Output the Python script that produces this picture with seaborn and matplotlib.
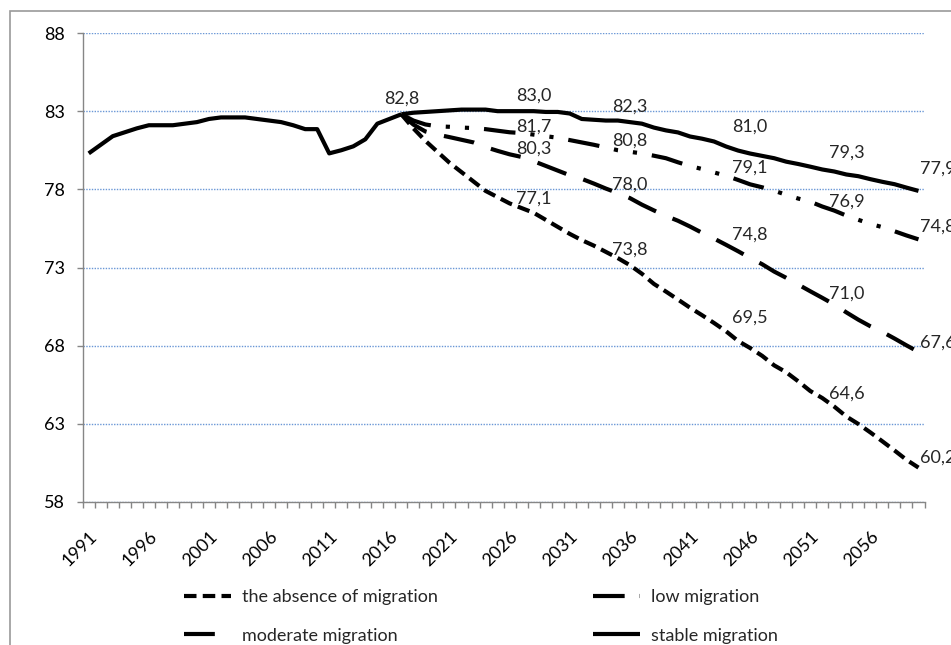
import numpy as np
import pandas as pd
import matplotlib
matplotlib.use("Agg")
import matplotlib.pyplot as plt
import seaborn as sns
from matplotlib.lines import Line2D
from matplotlib.patches import Rectangle
from matplotlib.ticker import FixedLocator

# ---------------- data ----------------
hist_years = list(range(1991, 2018))
hist_values = [80.3, 80.85, 81.4, 81.65, 81.9, 82.1, 82.1, 82.1, 82.2, 82.3,
               82.5, 82.6, 82.6, 82.6, 82.5, 82.4, 82.3, 82.1, 81.85, 81.85,
               80.3, 80.5, 80.75, 81.2, 82.2, 82.5, 82.8]

proj_years = list(range(2017, 2061))
absence = [82.8, 81.9, 81.1, 80.4, 79.7, 79.1, 78.5, 77.9, 77.5, 77.1,
           76.8, 76.5, 76.05, 75.6, 75.15, 74.75, 74.4, 74.0, 73.6, 73.15,
           72.6, 71.95, 71.46, 70.95, 70.43, 69.95, 69.45, 68.92, 68.3, 67.85,
           67.35, 66.74, 66.3, 65.72, 65.1, 64.65, 64.1, 63.47, 62.99, 62.45,
           61.88, 61.3, 60.7, 60.2]
low = [82.8, 82.4, 82.15, 82.03, 82.0, 81.95, 81.92, 81.85, 81.75, 81.65,
       81.6, 81.5, 81.4, 81.3, 81.15, 81.0, 80.85, 80.68, 80.5, 80.4,
       80.3, 80.15, 79.99, 79.73, 79.49, 79.3, 79.08, 78.87, 78.6, 78.32,
       78.13, 77.91, 77.65, 77.41, 77.21, 76.9, 76.64, 76.32, 76.05, 75.79,
       75.58, 75.32, 75.05, 74.8]
moderate = [82.8, 82.14, 81.7, 81.5, 81.34, 81.17, 81.0, 80.7, 80.46, 80.24,
            80.07, 79.8, 79.5, 79.2, 78.9, 78.67, 78.37, 78.05, 77.76, 77.44,
            77.02, 76.65, 76.3, 75.99, 75.62, 75.22, 74.85, 74.45, 74.04, 73.61,
            73.21, 72.74, 72.34, 71.91, 71.48, 71.06, 70.63, 70.13, 69.66, 69.24,
            68.88, 68.46, 68.02, 67.6]
stable = [82.8, 82.9, 82.95, 83.0, 83.05, 83.1, 83.1, 83.1, 83.0, 83.0,
          83.0, 83.0, 82.95, 82.95, 82.85, 82.5, 82.45, 82.4, 82.4, 82.3,
          82.2, 81.95, 81.77, 81.64, 81.38, 81.24, 81.06, 80.74, 80.48, 80.29,
          80.14, 79.99, 79.77, 79.62, 79.45, 79.27, 79.14, 78.95, 78.84, 78.65,
          78.48, 78.33, 78.11, 77.9]

scenario_names = ["the absence of migration", "low migration",
                  "moderate migration", "stable migration"]

label_years = [2017, 2028, 2036, 2046, 2054, 2060]
stable_labels = [82.8, 83.0, 82.3, 81.0, 79.3, 77.9]
other_label_years = [2028, 2036, 2046, 2054, 2060]
low_labels = [81.7, 80.8, 79.1, 76.9, 74.8]
moderate_labels = [80.3, 78.0, 74.8, 71.0, 67.6]
absence_labels = [77.1, 73.8, 69.5, 64.6, 60.2]

y_ticks = [58, 63, 68, 73, 78, 83, 88]
x_tick_years = list(range(1991, 2057, 5))

# ---------------- style ----------------
sns.set_theme(style="white")
plt.rcParams["font.family"] = ["Lato", "DejaVu Sans"]
FS = 13
GRAY = "#868686"
LW = 3.0

dash_map = {
    scenario_names[0]: (3.0, 1.5),
    scenario_names[1]: (7.6, 3.6, 1.0, 3.6, 1.0, 3.6),
    scenario_names[2]: (7.4, 4.3),
    scenario_names[3]: "",
}

W, H = 951, 645
fig = plt.figure(figsize=(W / 100, H / 100), dpi=100)
ax = fig.add_axes([82.7 / W, 1 - 502 / H, (924.5 - 82.7) / W, (502 - 33) / H])

df = pd.DataFrame({
    "year": proj_years * 4,
    "value": absence + low + moderate + stable,
    "scenario": np.repeat(scenario_names, len(proj_years)),
})

sns.lineplot(x=hist_years, y=hist_values, color="black", linewidth=LW, ax=ax)
n_before = len(ax.lines)
sns.lineplot(data=df, x="year", y="value", style="scenario",
             style_order=scenario_names, dashes=dash_map, color="black",
             linewidth=LW, legend=False, ax=ax, estimator=None, sort=False)
for ln in ax.lines:
    ln.set_linewidth(LW)
    ln.set_solid_joinstyle("round")
    ln.set_solid_capstyle("butt")
for ln, name in zip(ax.lines[n_before:], scenario_names):
    if dash_map[name]:
        ln.set_linestyle((0, dash_map[name]))
    else:
        ln.set_linestyle("-")

ax.set_xlim(1990.5, 2060.5)
ax.set_ylim(58, 88)
ax.set_xlabel("")
ax.set_ylabel("")

# grid
ax.set_yticks(y_ticks)
ax.set_yticklabels([str(v) for v in y_ticks], fontsize=FS, color="black")
ax.yaxis.grid(True, color="#6a97d6", linestyle=(0, (1, 1)), linewidth=1.0)
ax.xaxis.grid(False)
ax.set_axisbelow(True)

# x axis
ax.set_xticks(x_tick_years)
ax.set_xticklabels([str(y) for y in x_tick_years], rotation=45, ha="right",
                   va="top", rotation_mode="anchor", fontsize=FS, color="black")
ax.xaxis.set_minor_locator(FixedLocator(np.arange(1990.5, 2061, 1.0)))
ax.tick_params(axis="x", which="major", length=0, pad=19)
ax.tick_params(axis="x", which="minor", length=4.3, width=1, color=GRAY,
               direction="out", bottom=True)
ax.tick_params(axis="y", which="major", length=4.3, width=1, color=GRAY,
               direction="out", pad=8.5, left=True)

for side in ["top", "right"]:
    ax.spines[side].set_visible(False)
for side in ["left", "bottom"]:
    ax.spines[side].set_color(GRAY)
    ax.spines[side].set_linewidth(1.0)


def fmt(v):
    return f"{v:.1f}".replace(".", ",")


def put_labels(years, vals, last_year, mid_off, end_off):
    for yr, v in zip(years, vals):
        if yr == last_year:
            ax.annotate(fmt(v), (yr, v), xytext=(1, end_off),
                        textcoords="offset points", ha="left", va="center",
                        fontsize=FS, annotation_clip=False, clip_on=False)
        else:
            ax.annotate(fmt(v), (yr, v), xytext=(0, mid_off),
                        textcoords="offset points", ha="center", va="center",
                        fontsize=FS, annotation_clip=False)


put_labels(label_years, stable_labels, proj_years[-1], 11.5, 16)
put_labels(other_label_years, low_labels, proj_years[-1], 3.6, 9)
put_labels(other_label_years, moderate_labels, proj_years[-1], 3.6, 6.5)
put_labels(other_label_years, absence_labels, proj_years[-1], 3.6, 7)

# legend: two columns positioned independently
handles = {n: Line2D([], [], color="black", linewidth=LW,
                     linestyle=(0, dash_map[n]) if dash_map[n] else "-",
                     solid_capstyle="butt")
           for n in scenario_names}
leg_kw = dict(frameon=False, fontsize=FS, handlelength=2.6, handletextpad=0.6,
              labelspacing=1.25, borderpad=0, borderaxespad=0, loc="upper left")
fig.legend([handles[scenario_names[0]], handles[scenario_names[2]]],
           [scenario_names[0], scenario_names[2]],
           bbox_to_anchor=(184 / W, 1 - 589 / H), **leg_kw)
fig.legend([handles[scenario_names[1]], handles[scenario_names[3]]],
           [scenario_names[1], scenario_names[3]],
           bbox_to_anchor=(593 / W, 1 - 589 / H), **leg_kw)

# chart border
fig.patches.append(Rectangle((9.7 / W, -0.2), 1.2, 1.2 - 11 / H,
                             transform=fig.transFigure, fill=False,
                             edgecolor="#9a9a9a", linewidth=1.2, zorder=0))

fig.savefig("out.png", dpi=100)
